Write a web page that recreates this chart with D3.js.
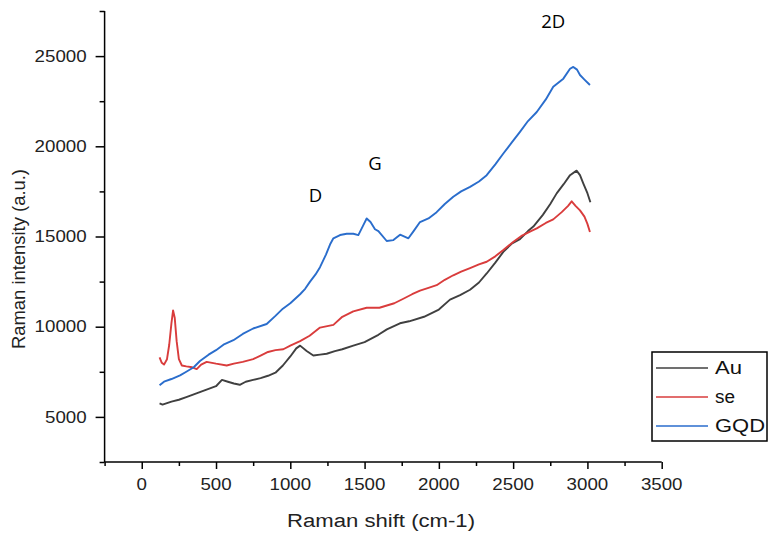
<!DOCTYPE html>
<html><head><meta charset="utf-8">
<script src="https://cdn.jsdelivr.net/npm/d3@7"></script>
<style>
html,body{margin:0;padding:0;background:#fff;}
svg{display:block;}
</style></head>
<body>
<svg id="chart" width="774" height="543"></svg>
<script>
// ---- data ----
const seriesNames = ["Au", "se", "GQD"];
const seriesColors = ["#404040", "#d93c3c", "#2a6dcc"];

const auShift = [120,140,200,250,300,350,400,450,500,540,580,620,660,700,750,800,850,900,950,1000,1040,1066,1110,1155,1200,1245,1300,1350,1424,1500,1593,1650,1738,1800,1900,2000,2075,2143,2210,2270,2322,2380,2434,2490,2546,2600,2636,2700,2750,2793,2840,2883,2927,2950,2972,3000,3020];
const auValue = [5750,5680,5850,5950,6100,6250,6400,6550,6700,7050,6950,6850,6780,6950,7050,7150,7280,7450,7850,8350,8800,8950,8650,8400,8450,8500,8650,8750,8950,9150,9550,9850,10190,10300,10550,10950,11500,11750,12050,12450,12950,13550,14150,14600,14850,15300,15550,16200,16800,17390,17900,18400,18650,18400,17950,17400,16900];

const seShift = [120,135,150,170,185,200,211,222,235,250,270,300,340,370,400,437,500,572,620,680,750,800,850,900,953,1000,1066,1130,1200,1290,1350,1424,1514,1600,1700,1761,1820,1873,1930,1985,2040,2097,2150,2210,2270,2322,2380,2434,2500,2560,2620,2659,2720,2770,2827,2870,2894,2920,2950,2980,3000,3017];
const seValue = [8300,8000,7900,8200,9000,10200,10900,10500,9200,8200,7850,7800,7750,7650,7900,8050,7950,7850,7950,8050,8200,8400,8600,8700,8750,8950,9200,9500,9950,10100,10550,10850,11050,11050,11300,11550,11800,12000,12150,12300,12600,12850,13050,13250,13450,13600,13900,14250,14700,15050,15300,15450,15750,15950,16350,16700,16950,16700,16450,16100,15700,15250];

const gqdShift = [120,150,200,258,300,350,392,450,500,550,617,680,750,841,900,950,1000,1066,1100,1133,1170,1200,1240,1270,1290,1335,1380,1424,1458,1490,1514,1540,1570,1593,1649,1694,1739,1795,1830,1873,1930,1985,2040,2097,2150,2210,2270,2322,2380,2434,2490,2546,2600,2659,2720,2770,2838,2883,2905,2930,2950,2980,3017];
const gqdValue = [6750,6950,7100,7300,7500,7750,8100,8450,8700,9000,9250,9600,9900,10150,10600,11000,11300,11800,12100,12500,12900,13300,14000,14600,14900,15080,15150,15150,15080,15600,16000,15800,15400,15300,14750,14800,15100,14900,15300,15800,16000,16350,16800,17200,17500,17750,18050,18400,19000,19600,20200,20800,21400,21900,22600,23300,23750,24300,24400,24250,23950,23700,23400];

const xTicks = [0,500,1000,1500,2000,2500,3000,3500];
const yTicks = [5000,10000,15000,20000,25000];
const peakLabels = ["D", "G", "2D"];
const peakShift = [1170, 1570, 2770];
const peakValue = [16900, 18700, 26550];

// ---- layout ----
const svg = d3.select("#chart");
const x = d3.scaleLinear().domain([-250, 3500]).range([104.6, 661.7]);
const y = d3.scaleLinear().domain([2500, 27500]).range([462, 11]);

const series = [
  {name: seriesNames[0], color: seriesColors[0], pts: auShift.map((s,i)=>[s, auValue[i]])},
  {name: seriesNames[1], color: seriesColors[1], pts: seShift.map((s,i)=>[s, seValue[i]])},
  {name: seriesNames[2], color: seriesColors[2], pts: gqdShift.map((s,i)=>[s, gqdValue[i]])}
];

const line = d3.line().x(d=>x(d[0])).y(d=>y(d[1]));
svg.append("g").selectAll("path").data(series).join("path")
  .attr("d", d=>line(d.pts)).attr("fill","none")
  .attr("stroke", d=>d.color).attr("stroke-width", 1.9).attr("stroke-linejoin","round");

const tickFont = "'Liberation Sans', Arial, sans-serif";
const charW = 10.4;

// x axis
const xAxisG = svg.append("g").attr("transform", `translate(0,${y(2500)})`);
xAxisG.call(d3.axisBottom(x).tickValues(d3.range(-250, 3501, 250)).tickSize(4).tickFormat(""));
xAxisG.call(g=>g.selectAll(".tick line").filter(d=>xTicks.includes(d)).attr("y2", 7));
xAxisG.selectAll("path,line").attr("stroke","#000").attr("stroke-width",1.5);
xAxisG.select(".domain").attr("d", `M${x(-250)},0H${x(3500)}`);
xAxisG.selectAll(".lbl").data(xTicks).join("text").attr("class","lbl")
  .attr("x", d=>x(d)).attr("y", 28).attr("text-anchor","middle")
  .attr("font-family", tickFont).attr("font-size", 16)
  .attr("textLength", d=>String(d).length*charW).attr("lengthAdjust","spacingAndGlyphs")
  .attr("fill","#222").text(d=>d);

// y axis
const yAxisG = svg.append("g").attr("transform", `translate(${x(-250)},0)`);
yAxisG.call(d3.axisLeft(y).tickValues(d3.range(2500, 27501, 2500)).tickSize(5).tickFormat(""));
yAxisG.call(g=>g.selectAll(".tick line").filter(d=>yTicks.includes(d)).attr("x2", -9));
yAxisG.selectAll("path,line").attr("stroke","#000").attr("stroke-width",1.5);
yAxisG.select(".domain").attr("d", `M0,${y(2500)}V${y(27500)}`);
yAxisG.selectAll(".lbl").data(yTicks).join("text").attr("class","lbl")
  .attr("x", -18).attr("y", d=>y(d)).attr("dy","0.36em").attr("text-anchor","end")
  .attr("font-family", tickFont).attr("font-size", 16)
  .attr("textLength", d=>String(d).length*charW).attr("lengthAdjust","spacingAndGlyphs")
  .attr("fill","#222").text(d=>d);

// axis titles
svg.append("text").attr("x", 381).attr("y", 527).attr("text-anchor","middle")
  .attr("font-family", tickFont).attr("font-size", 18).attr("fill","#222")
  .attr("textLength", 188).attr("lengthAdjust","spacingAndGlyphs")
  .text("Raman shift (cm-1)");
svg.append("text").attr("transform","translate(25,259) rotate(-90)").attr("text-anchor","middle")
  .attr("font-family", tickFont).attr("font-size", 18).attr("fill","#222")
  .attr("textLength", 180).attr("lengthAdjust","spacingAndGlyphs")
  .text("Raman intensity (a.u.)");

// peak annotations
svg.append("g").selectAll("text").data(peakLabels).join("text")
  .attr("x", (d,i)=>x(peakShift[i])).attr("y", (d,i)=>y(peakValue[i]))
  .attr("text-anchor","middle").attr("font-family","'Open Sans', 'Noto Sans', sans-serif")
  .attr("font-size", 18.5).attr("fill","#000").text(d=>d);

// legend
const legendW = [27, 20, 50];
const lg = svg.append("g").attr("transform","translate(652,352)");
lg.append("rect").attr("width",115).attr("height",89).attr("fill","#fff").attr("stroke","#000").attr("stroke-width",1.5);
const rows = lg.selectAll("g.row").data(series).join("g").attr("class","row")
  .attr("transform",(d,i)=>`translate(0,${16 + i*29})`);
rows.append("line").attr("x1",4).attr("x2",56).attr("stroke",d=>d.color).attr("stroke-width",1.5);
rows.append("text").attr("x",63).attr("dy","0.36em").attr("font-family",tickFont)
  .attr("font-size",18).attr("fill","#111")
  .attr("textLength",(d,i)=>legendW[i]).attr("lengthAdjust","spacingAndGlyphs")
  .text(d=>d.name);
</script>
</body></html>
